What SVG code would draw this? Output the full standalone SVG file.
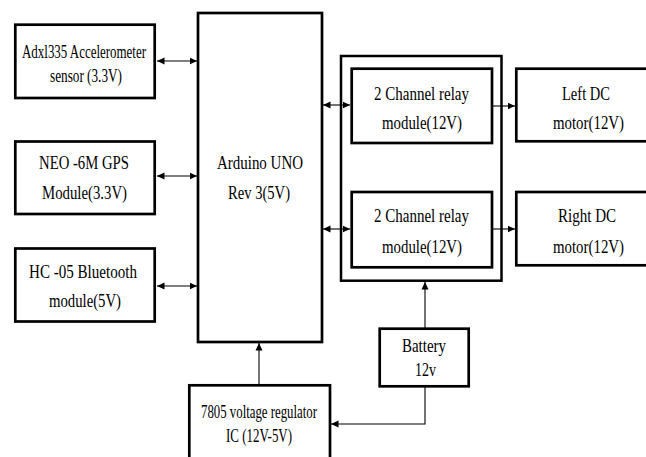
<svg xmlns="http://www.w3.org/2000/svg" width="646" height="457" viewBox="0 0 646 457">
<style>
.box{fill:#fff;stroke:#000;stroke-width:2.7}
.cont{fill:none;stroke:#000;stroke-width:2.5}
.ln{fill:none;stroke:#000;stroke-width:1.1}
text{font-family:"Liberation Serif","Times New Roman",serif;font-size:19.5px;fill:#000;text-anchor:middle}
</style>
<defs>
<marker id="ah" markerUnits="userSpaceOnUse" markerWidth="9" markerHeight="9" refX="7.5" refY="4.5" orient="auto-start-reverse">
<path d="M0,1 L7.5,4.5 L0,8 Z" fill="#000"/>
</marker>
</defs>
<rect width="646" height="457" fill="#fff"/>
<g id="connectors">
<line class="ln" x1="157" y1="61" x2="197" y2="61" marker-start="url(#ah)" marker-end="url(#ah)"/>
<line class="ln" x1="157" y1="176" x2="197" y2="176" marker-start="url(#ah)" marker-end="url(#ah)"/>
<line class="ln" x1="157" y1="286" x2="197" y2="286" marker-start="url(#ah)" marker-end="url(#ah)"/>
<line class="ln" x1="323" y1="105" x2="350" y2="105" marker-start="url(#ah)" marker-end="url(#ah)"/>
<line class="ln" x1="323" y1="229" x2="350" y2="229" marker-start="url(#ah)" marker-end="url(#ah)"/>
<line class="ln" x1="493" y1="106" x2="515" y2="106" marker-end="url(#ah)"/>
<line class="ln" x1="493" y1="229" x2="515" y2="229" marker-end="url(#ah)"/>
<line class="ln" x1="425" y1="328" x2="425" y2="282" marker-end="url(#ah)"/>
<polyline class="ln" points="425,387 425,424 331,424" marker-end="url(#ah)"/>
<line class="ln" x1="259" y1="385" x2="259" y2="343" marker-end="url(#ah)"/>
</g>
<g id="adxl">
<rect class="box" x="15.3" y="24.7" width="139.4" height="73.3"/>
<text x="84" y="58" textLength="124" lengthAdjust="spacingAndGlyphs">Adxl335 Accelerometer</text>
<text x="86" y="82" textLength="72" lengthAdjust="spacingAndGlyphs">sensor (3.3V)</text>
</g>
<g id="gps">
<rect class="box" x="15.3" y="141.5" width="139.4" height="72.5"/>
<text x="84" y="169" textLength="90" lengthAdjust="spacingAndGlyphs">NEO -6M GPS</text>
<text x="84.5" y="199" textLength="85" lengthAdjust="spacingAndGlyphs">Module(3.3V)</text>
</g>
<g id="bluetooth">
<rect class="box" x="15.3" y="248.5" width="139.4" height="73"/>
<text x="83" y="278" textLength="108" lengthAdjust="spacingAndGlyphs">HC -05 Bluetooth</text>
<text x="85" y="307" textLength="72" lengthAdjust="spacingAndGlyphs">module(5V)</text>
</g>
<g id="arduino">
<rect class="box" x="198" y="13" width="124" height="329"/>
<text x="260" y="169" textLength="86" lengthAdjust="spacingAndGlyphs">Arduino UNO</text>
<text x="259" y="199" textLength="62" lengthAdjust="spacingAndGlyphs">Rev 3(5V)</text>
</g>
<g id="relay-group">
<rect class="cont" x="341" y="56" width="160.5" height="224.7"/>
</g>
<g id="relay1">
<rect class="box" x="351.7" y="68.7" width="140.3" height="74.3"/>
<text x="421.5" y="100" textLength="95" lengthAdjust="spacingAndGlyphs">2 Channel relay</text>
<text x="422" y="129" textLength="80" lengthAdjust="spacingAndGlyphs">module(12V)</text>
</g>
<g id="relay2">
<rect class="box" x="351.7" y="192" width="140.3" height="75.3"/>
<text x="421.5" y="222" textLength="95" lengthAdjust="spacingAndGlyphs">2 Channel relay</text>
<text x="422" y="253" textLength="80" lengthAdjust="spacingAndGlyphs">module(12V)</text>
</g>
<g id="left-motor">
<rect class="box" x="516.3" y="68.7" width="140" height="72.6"/>
<text x="586" y="100" textLength="48" lengthAdjust="spacingAndGlyphs">Left DC</text>
<text x="588.5" y="129" textLength="71" lengthAdjust="spacingAndGlyphs">motor(12V)</text>
</g>
<g id="right-motor">
<rect class="box" x="516.3" y="192" width="140" height="73.3"/>
<text x="587" y="222" textLength="58" lengthAdjust="spacingAndGlyphs">Right DC</text>
<text x="588.5" y="253" textLength="71" lengthAdjust="spacingAndGlyphs">motor(12V)</text>
</g>
<g id="battery">
<rect class="box" x="379.7" y="328.7" width="89" height="57.6"/>
<text x="424" y="352" textLength="44" lengthAdjust="spacingAndGlyphs">Battery</text>
<text x="425.5" y="376" textLength="21" lengthAdjust="spacingAndGlyphs">12v</text>
</g>
<g id="regulator">
<rect class="box" x="189.3" y="385.3" width="140.7" height="80"/>
<text x="259" y="418" textLength="116" lengthAdjust="spacingAndGlyphs">7805 voltage regulator</text>
<text x="259" y="442" textLength="66" lengthAdjust="spacingAndGlyphs">IC (12V-5V)</text>
</g>
</svg>
